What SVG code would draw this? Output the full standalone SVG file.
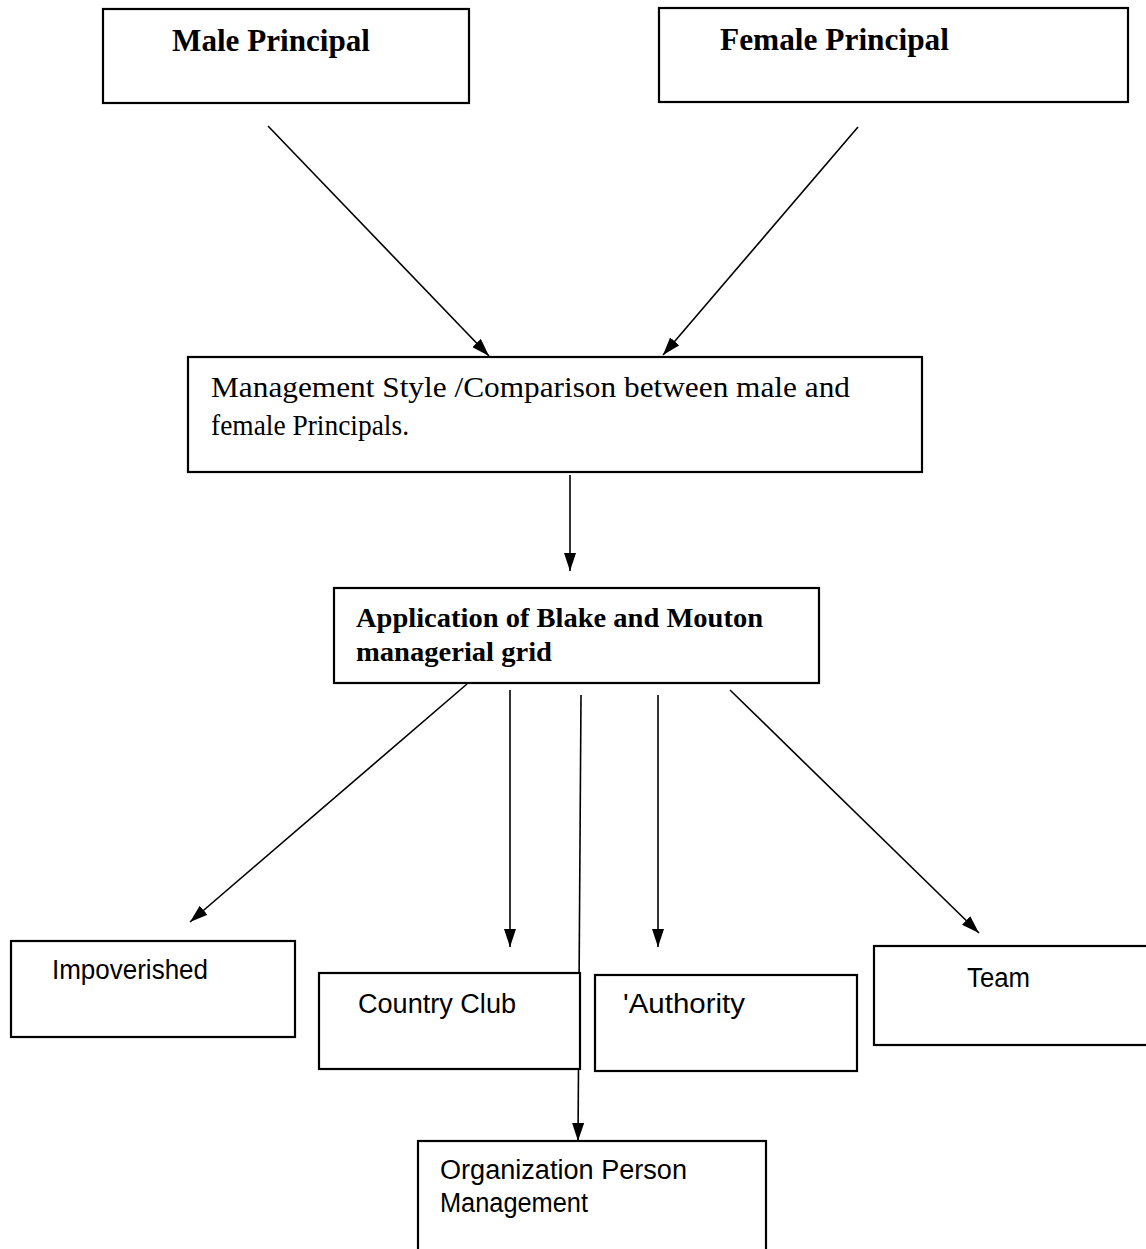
<svg xmlns="http://www.w3.org/2000/svg" width="1146" height="1249" viewBox="0 0 1146 1249">
<style>
.box{fill:#fff;stroke:#000;stroke-width:2.2}
.ttl{font-family:"Liberation Serif",serif;font-weight:bold;font-size:31px;fill:#000}
.txt{font-family:"Liberation Serif",serif;font-size:29px;fill:#000}
.bld{font-family:"Liberation Serif",serif;font-weight:bold;font-size:27px;fill:#000}
.lbl{font-family:"Liberation Sans",sans-serif;font-size:27px;fill:#000}
.con{stroke:#000;stroke-width:1.6;fill:none;marker-end:url(#ah)}
</style>
<defs>
<marker id="ah" viewBox="0 0 18 12" refX="18" refY="6" markerWidth="18" markerHeight="12" markerUnits="userSpaceOnUse" orient="auto">
<path d="M0,0 L18,6 L0,12 z" fill="#000"/>
</marker>
</defs>
<rect width="1146" height="1249" fill="#fff"/>
<g id="connectors">
<line class="con" x1="268" y1="126" x2="489" y2="356"/>
<line class="con" x1="858" y1="127" x2="663" y2="355"/>
<line class="con" x1="570" y1="475" x2="570" y2="571"/>
<line class="con" x1="467" y1="684" x2="190" y2="922"/>
<line class="con" x1="510" y1="690" x2="510" y2="947"/>
<line class="con" x1="581" y1="695" x2="578" y2="1141"/>
<line class="con" x1="658" y1="695" x2="658" y2="947"/>
<line class="con" x1="730" y1="690" x2="979" y2="933"/>
</g>
<g id="male"><rect class="box" x="103" y="9" width="366" height="94"/><text class="ttl" x="172" y="51" textLength="198" lengthAdjust="spacingAndGlyphs">Male Principal</text></g>
<g id="female"><rect class="box" x="659" y="8" width="469" height="94"/><text class="ttl" x="720" y="50" textLength="229" lengthAdjust="spacingAndGlyphs">Female Principal</text></g>
<g id="mgmt"><rect class="box" x="188" y="357" width="734" height="115"/>
<text class="txt" x="211" y="397" textLength="639" lengthAdjust="spacingAndGlyphs">Management Style /Comparison between male and</text>
<text class="txt" x="211" y="435" textLength="198" lengthAdjust="spacingAndGlyphs">female Principals.</text></g>
<g id="app"><rect class="box" x="334" y="588" width="485" height="95"/>
<text class="bld" x="356" y="627" textLength="407" lengthAdjust="spacingAndGlyphs">Application of Blake and Mouton</text>
<text class="bld" x="356" y="661" textLength="196" lengthAdjust="spacingAndGlyphs">managerial grid</text></g>
<g id="impoverished"><rect class="box" x="11" y="941" width="284" height="96"/><text class="lbl" x="52" y="979" textLength="156" lengthAdjust="spacingAndGlyphs">Impoverished</text></g>
<g id="country"><rect class="box" x="319" y="973" width="261" height="96"/><text class="lbl" x="358" y="1013" textLength="158" lengthAdjust="spacingAndGlyphs">Country Club</text></g>
<g id="authority"><rect class="box" x="595" y="975" width="262" height="96"/><text class="lbl" x="623" y="1013" textLength="122" lengthAdjust="spacingAndGlyphs">'Authority</text></g>
<g id="team"><rect class="box" x="874" y="946" width="280" height="99"/><text class="lbl" x="967" y="987" textLength="63" lengthAdjust="spacingAndGlyphs">Team</text></g>
<g id="organization"><rect class="box" x="418" y="1141" width="348" height="120"/>
<text class="lbl" x="440" y="1179" textLength="247" lengthAdjust="spacingAndGlyphs">Organization   Person</text>
<text class="lbl" x="440" y="1212" textLength="148" lengthAdjust="spacingAndGlyphs">Management</text></g>
</svg>
